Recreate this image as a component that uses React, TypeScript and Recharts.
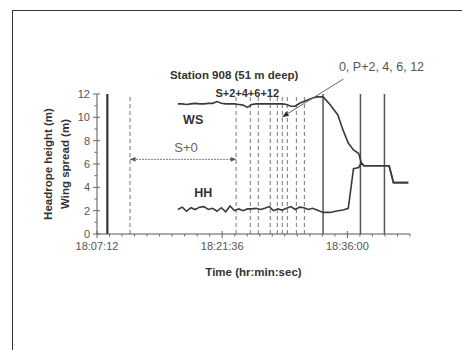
import React from "react";
import { LineChart, Line, XAxis, YAxis, ReferenceLine, ReferenceDot } from "recharts";

// time in minutes after 18:00
const timeMin = [
  16.5, 17.0, 17.5, 18.0, 18.5, 19.0, 19.5, 20.0, 20.5, 21.0, 21.5, 22.0, 22.5, 23.0, 23.5,
  24.0, 24.5, 25.0, 25.5, 26.0, 26.5, 27.0, 27.5, 28.0, 28.5, 29.0, 29.5, 30.0, 30.5, 31.0,
  31.5, 32.0, 32.5, 33.2, 34.0, 34.9, 35.5, 36.1, 36.7, 37.3, 37.6, 37.9, 40.8, 41.3, 43.0,
];
const wsValues = [
  11.15, 11.15, 11.1, 11.15, 11.2, 11.15, 11.15, 11.2, 11.2, 11.35, 11.2, 11.15, 11.15, 11.15, 11.1,
  11.05, 10.85, 11.1, 11.15, 11.15, 11.15, 11.15, 11.15, 11.15, 11.15, 11.1, 10.95, 10.95, 11.2, 11.35,
  11.5, 11.65, 11.75, 11.75, 11.1, 10.2, 8.9, 7.8, 7.2, 6.9, 6.1, 5.85, 5.85, 4.4, 4.4,
];
const hhValues = [
  2.1, 2.3, 1.95, 2.25, 2.1, 2.3, 2.35, 2.1, 2.2, 1.95, 2.25, 1.9, 2.4, 2.0, 2.15,
  2.0, 2.15, 2.15, 2.2, 2.1, 2.2, 2.35, 2.0, 2.15, 2.05, 2.2, 2.35, 2.1, 2.3, 2.25,
  2.1, 2.2, 2.05, 1.85, 1.85, 2.0, 2.05, 2.2, 5.6, 5.7, 6.1, 5.85, 5.85, 4.4, 4.4,
];

// labelled ticks, and all tick marks (minor every 1.44 min)
const timeTicks = [7.2, 21.6, 36.0];
const allTimeTicks = [
  7.2, 8.64, 10.08, 11.52, 12.96, 14.4, 15.84, 17.28, 18.72, 20.16, 21.6, 23.04, 24.48,
  25.92, 27.36, 28.8, 30.24, 31.68, 33.12, 34.56, 36.0, 37.44, 38.88, 40.32, 41.76, 43.2,
];
const yTicks = [0, 2, 4, 6, 8, 10, 12];
const allYTicks = [0, 1, 2, 3, 4, 5, 6, 7, 8, 9, 10, 11, 12];

// event markers (minutes after 18:00)
const startMark = 8.39;
const solidMarks = [33.2, 37.5, 40.26];
const dashedMarks = [11.0, 23.2, 24.83, 25.75, 27.13, 27.94, 28.51, 29.09, 30.13, 31.05];

const data = timeMin.map((t, i) => ({ t, ws: wsValues[i], hh: hhValues[i] }));

const pad = (n: number) => String(n).padStart(2, "0");
const fmtTime = (m: number) => {
  const s = Math.round(m * 60);
  return `18:${pad(Math.floor(s / 60))}:${pad(s % 60)}`;
};

const FONT = '"Liberation Sans", Arial, sans-serif';
const isMajor = (list: number[], v: number) => list.some((t) => Math.abs(t - v) < 1e-6);

const TimeTick = (p: any) => {
  const { x, y, payload } = p;
  const major = isMajor(timeTicks, payload.value);
  return (
    <g>
      <line x1={x} x2={x} y1={major ? y - 3 : y} y2={major ? y + 4 : y + 2.5} stroke="#666" strokeWidth={1} />
      {major && (
        <text x={x} y={y + 16} textAnchor="middle" fill="#555" fontSize={11} fontFamily={FONT}>
          {fmtTime(payload.value)}
        </text>
      )}
    </g>
  );
};

const ValueTick = (p: any) => {
  const { x, y, payload } = p;
  const major = isMajor(yTicks, payload.value);
  return (
    <g>
      <line x1={major ? x - 4 : x - 2.5} x2={major ? x + 3 : x} y1={y} y2={y} stroke="#666" strokeWidth={1} />
      {major && (
        <text x={x - 7} y={y} textAnchor="end" dominantBaseline="central" fill="#555" fontSize={11} fontFamily={FONT}>
          {payload.value}
        </text>
      )}
    </g>
  );
};

function arrowHead(x: number, y: number, ang: number, size = 6) {
  const a1 = ang + Math.PI - 0.4;
  const a2 = ang + Math.PI + 0.4;
  return `${x},${y} ${x + size * Math.cos(a1)},${y + size * Math.sin(a1)} ${x + size * Math.cos(a2)},${y + size * Math.sin(a2)}`;
}

const DoubleArrow = (p: any) => {
  const { x1, y1, x2, y2 } = p;
  const ang = Math.atan2(y2 - y1, x2 - x1);
  return (
    <g>
      <line x1={x1} y1={y1} x2={x2} y2={y2} stroke="#777" strokeWidth={1} strokeDasharray="2 1" />
      <polygon points={arrowHead(x2, y2, ang, 6)} fill="#555" />
      <polygon points={arrowHead(x1, y1, ang + Math.PI, 6)} fill="#555" />
    </g>
  );
};

const Pointer = (p: any) => {
  const { x1, y1, x2, y2 } = p;
  const ang = Math.atan2(y2 - y1, x2 - x1);
  return (
    <g>
      <line x1={x1} y1={y1} x2={x2} y2={y2} stroke="#666" strokeWidth={1} />
      <polygon points={arrowHead(x2, y2, ang, 7)} fill="#333" />
    </g>
  );
};

const YTitle = (p: any) => {
  const vb = p.viewBox || { x: 0, y: 94, width: 97, height: 140 };
  const cy = vb.y + vb.height / 2;
  return (
    <g fontFamily={FONT} fontSize={11.5} fontWeight="bold" fill="#333">
      <text x={48} y={cy} transform={`rotate(-90 48 ${cy})`} textAnchor="middle" dominantBaseline="central">
        Headrope height (m)
      </text>
      <text x={65} y={cy} transform={`rotate(-90 65 ${cy})`} textAnchor="middle" dominantBaseline="central">
        Wing spread (m)
      </text>
    </g>
  );
};

const notes = [
  { text: "Station 908 (51 m deep)", x: 22.98, y: 13.63, bold: true, size: 11.5, color: "#333" },
  { text: "S+2+4+6+12", x: 24.48, y: 12.12, bold: true, size: 11, color: "#333" },
  { text: "0, P+2, 4, 6, 12", x: 39.92, y: 14.31, bold: false, size: 12.5, color: "#555" },
  { text: "WS", x: 18.26, y: 9.77, bold: true, size: 12.5, color: "#333" },
  { text: "HH", x: 19.41, y: 3.51, bold: true, size: 12.5, color: "#333" },
  { text: "S+0", x: 17.45, y: 7.46, bold: false, size: 13, color: "#666" },
];

export default function App() {
  return (
    <div style={{ position: "absolute", left: 0, top: 0, width: 462, height: 350, overflow: "hidden", background: "#fff" }}>
      <div
        style={{
          position: "absolute",
          left: 12,
          top: 10,
          width: 470,
          height: 360,
          border: "1.5px solid #333",
          boxSizing: "border-box",
        }}
      />
      <LineChart
        width={462}
        height={350}
        data={data}
        margin={{ top: 94, right: 52, bottom: 71, left: 0 }}
        style={{ position: "absolute", left: 0, top: 0, fontFamily: FONT }}
      >
        <XAxis
          dataKey="t"
          type="number"
          domain={[7.2, 43.2]}
          ticks={allTimeTicks}
          interval={0}
          allowDataOverflow
          height={45}
          tickSize={0}
          tickMargin={0}
          tickLine={false}
          stroke="#555"
          tick={<TimeTick />}
          label={{ value: "Time (hr:min:sec)", position: "insideBottom", offset: 3, fill: "#333", fontSize: 11.5, fontWeight: "bold" }}
        />
        <YAxis
          domain={[0, 12]}
          ticks={allYTicks}
          interval={0}
          width={97}
          tickSize={0}
          tickMargin={0}
          tickLine={false}
          stroke="#555"
          tick={<ValueTick />}
          label={{ content: <YTitle /> }}
        />

        <ReferenceLine x={startMark} stroke="#333" strokeWidth={2.2} />
        {solidMarks.map((m) => (
          <ReferenceLine key={`s${m}`} x={m} stroke="#555" strokeWidth={1.5} />
        ))}
        {dashedMarks.map((m) => (
          <ReferenceLine key={`d${m}`} x={m} stroke="#777" strokeWidth={1} strokeDasharray="4 3" />
        ))}

        <Line dataKey="ws" type="linear" stroke="#3a3a3a" strokeWidth={1.6} dot={false} isAnimationActive={false} />
        <Line dataKey="hh" type="linear" stroke="#3a3a3a" strokeWidth={1.6} dot={false} isAnimationActive={false} />

        <ReferenceLine
          segment={[{ x: 11.0, y: 6.4 }, { x: 23.2, y: 6.4 }]}
          ifOverflow="visible"
          shape={DoubleArrow}
        />
        <ReferenceLine
          segment={[{ x: 35.54, y: 13.28 }, { x: 28.51, y: 10.03 }]}
          ifOverflow="visible"
          shape={Pointer}
        />

        {notes.map((n) => (
          <ReferenceDot
            key={n.text}
            x={n.x}
            y={n.y}
            r={0}
            stroke="none"
            fill="none"
            ifOverflow="visible"
            label={{
              value: n.text,
              position: "center",
              fill: n.color,
              fontSize: n.size,
              fontWeight: n.bold ? "bold" : "normal",
              fontFamily: FONT,
            }}
          />
        ))}
      </LineChart>
    </div>
  );
}
